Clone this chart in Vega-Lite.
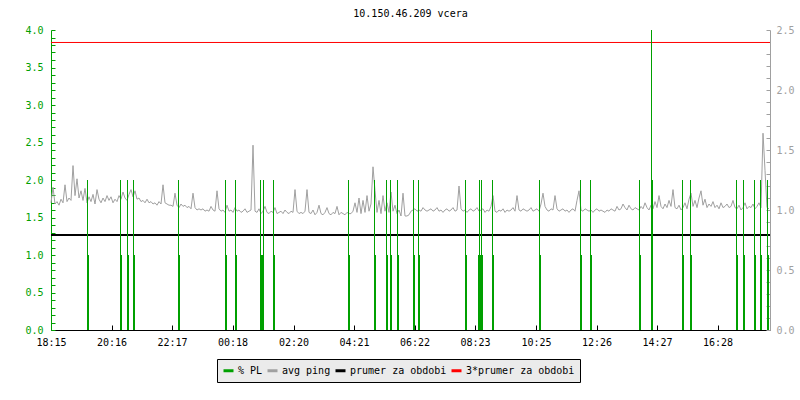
{
"$schema": "https://vega.github.io/schema/vega-lite/v6.json",
"width": 719, "height": 300,
"autosize": {"type": "none"},
"padding": {"left": 51, "top": 30, "right": 30, "bottom": 70},
"background": "white",
"title": {"text": "10.150.46.209 vcera", "font": "DejaVu Sans Mono", "fontSize": 10, "fontWeight": "normal", "color": "black", "anchor": "middle", "offset": 6},
"config": {
  "view": {"stroke": null},
  "axis": {"labelFont": "DejaVu Sans Mono", "labelFontSize": 10, "title": null, "labelOverlap": false},
  "legend": {"orient": "none", "legendX": 166, "legendY": 329, "direction": "horizontal", "fillColor": "#ebebeb", "strokeColor": "black", "padding": 5, "symbolType": "stroke", "symbolStrokeWidth": 3, "symbolSize": 100, "labelFont": "DejaVu Sans Mono", "labelFontSize": 10, "labelColor": "black", "columnPadding": -2, "labelOffset": 3}
},
"datasets": {
  "ping": [
{"t":0,"p":1.06},{"t":4,"p":1.19},{"t":8,"p":1.05},{"t":12,"p":1.07},{"t":16,"p":1.04},{"t":20,"p":1.09},{"t":24,"p":1.06},{"t":28,"p":1.21},{"t":32,"p":1.07},{"t":36,"p":1.1},{"t":40,"p":1.08},{"t":44,"p":1.37},{"t":48,"p":1.12},{"t":52,"p":1.26},{"t":56,"p":1.1},{"t":60,"p":1.16},{"t":64,"p":1.08},{"t":68,"p":1.18},{"t":72,"p":1.06},{"t":76,"p":1.11},{"t":80,"p":1.07},{"t":84,"p":1.13},{"t":88,"p":1.05},{"t":92,"p":1.17},{"t":96,"p":1.09},
{"t":100,"p":1.06},{"t":104,"p":1.1},{"t":108,"p":1.07},{"t":112,"p":1.12},{"t":116,"p":1.08},{"t":120,"p":1.11},{"t":124,"p":1.06},{"t":128,"p":1.09},{"t":132,"p":1.07},{"t":136,"p":1.12},{"t":140,"p":1.09},{"t":144,"p":1.15},{"t":148,"p":1.1},{"t":152,"p":1.08},{"t":156,"p":1.13},{"t":160,"p":1.17},{"t":164,"p":1.11},{"t":168,"p":1.16},{"t":172,"p":1.09},{"t":176,"p":1.1},
{"t":180,"p":1.07},{"t":184,"p":1.08},{"t":188,"p":1.06},{"t":192,"p":1.09},{"t":196,"p":1.06},{"t":200,"p":1.07},{"t":204,"p":1.05},{"t":208,"p":1.06},{"t":212,"p":1.04},{"t":216,"p":1.07},{"t":220,"p":1.05},{"t":224,"p":1.21},{"t":228,"p":1.06},{"t":232,"p":1.05},{"t":236,"p":1.04},
{"t":240,"p":1.04},{"t":244,"p":1.03},{"t":248,"p":1.14},{"t":252,"p":1.04},{"t":256,"p":1.02},{"t":260,"p":1.05},{"t":264,"p":1.03},{"t":268,"p":1.04},{"t":272,"p":1.02},{"t":276,"p":1.03},{"t":280,"p":1.01},{"t":284,"p":1.14},{"t":288,"p":1.02},{"t":292,"p":1.0},{"t":296,"p":1.01},
{"t":300,"p":1.0},{"t":304,"p":1.01},{"t":308,"p":0.99},{"t":312,"p":1.0},{"t":316,"p":0.99},{"t":320,"p":1.03},{"t":324,"p":1.0},{"t":328,"p":0.99},{"t":332,"p":1.16},{"t":336,"p":1.01},{"t":340,"p":0.99},{"t":344,"p":1.0},{"t":348,"p":0.98},{"t":352,"p":1.04},{"t":356,"p":0.99},{"t":360,"p":1.0},{"t":364,"p":0.98},{"t":368,"p":1.02},{"t":372,"p":0.99},{"t":376,"p":1.0},{"t":380,"p":0.98},{"t":384,"p":0.99},{"t":388,"p":1.01},{"t":392,"p":0.98},{"t":396,"p":0.99},
{"t":400,"p":1.0},{"t":404,"p":1.54},{"t":408,"p":0.99},{"t":412,"p":0.98},{"t":416,"p":1.01},{"t":420,"p":0.97},{"t":424,"p":0.99},{"t":428,"p":1.03},{"t":432,"p":0.98},{"t":436,"p":0.97},{"t":440,"p":0.99},{"t":444,"p":0.98},{"t":448,"p":1.02},{"t":452,"p":0.97},{"t":456,"p":0.98},{"t":460,"p":0.99},{"t":464,"p":0.97},{"t":468,"p":1.0},{"t":472,"p":0.98},{"t":476,"p":0.97},{"t":480,"p":0.99},{"t":484,"p":0.98},{"t":488,"p":1.17},{"t":492,"p":0.99},{"t":496,"p":0.97},
{"t":500,"p":0.98},{"t":504,"p":0.97},{"t":508,"p":0.99},{"t":512,"p":1.17},{"t":516,"p":0.98},{"t":520,"p":0.97},{"t":524,"p":1.0},{"t":528,"p":0.96},{"t":532,"p":0.98},{"t":536,"p":1.04},{"t":540,"p":0.97},{"t":544,"p":0.96},{"t":548,"p":0.98},{"t":552,"p":1.02},{"t":556,"p":0.97},{"t":560,"p":0.96},{"t":564,"p":0.98},{"t":568,"p":0.97},{"t":572,"p":1.03},{"t":576,"p":0.96},{"t":580,"p":0.98},{"t":584,"p":0.97},{"t":588,"p":0.96},{"t":592,"p":0.98},{"t":596,"p":0.97},
{"t":600,"p":0.97},{"t":604,"p":0.99},{"t":608,"p":1.06},{"t":612,"p":0.98},{"t":616,"p":1.1},{"t":620,"p":0.97},{"t":624,"p":1.08},{"t":628,"p":0.98},{"t":632,"p":1.12},{"t":636,"p":0.99},{"t":640,"p":1.05},{"t":644,"p":1.36},{"t":648,"p":1.16},{"t":652,"p":0.98},{"t":656,"p":1.08},{"t":660,"p":0.97},{"t":664,"p":1.12},{"t":668,"p":0.99},{"t":672,"p":1.06},{"t":676,"p":0.98},{"t":680,"p":1.15},{"t":684,"p":0.99},{"t":688,"p":1.04},{"t":692,"p":0.97},{"t":696,"p":1.0},
{"t":700,"p":0.95},{"t":704,"p":1.14},{"t":708,"p":0.95},{"t":712,"p":0.95},{"t":716,"p":0.96},
{"t":720,"p":0.99},{"t":724,"p":1.0},{"t":728,"p":1.01},{"t":732,"p":0.99},{"t":736,"p":1.0},{"t":740,"p":0.99},{"t":744,"p":1.02},{"t":748,"p":1.0},{"t":752,"p":0.99},{"t":756,"p":1.0},{"t":760,"p":1.01},{"t":764,"p":0.99},{"t":768,"p":1.0},{"t":772,"p":1.02},{"t":776,"p":0.99},{"t":780,"p":1.0},{"t":784,"p":0.98},{"t":788,"p":1.0},{"t":792,"p":1.01},{"t":796,"p":0.99},{"t":800,"p":1.0},{"t":804,"p":1.02},{"t":808,"p":0.99},{"t":812,"p":1.0},{"t":816,"p":1.2},{"t":820,"p":1.01},{"t":824,"p":0.99},{"t":828,"p":1.0},{"t":832,"p":0.98},{"t":836,"p":1.0},{"t":840,"p":1.01},{"t":844,"p":0.99},{"t":848,"p":1.0},{"t":852,"p":1.02},{"t":856,"p":0.99},{"t":860,"p":1.0},{"t":864,"p":1.01},{"t":868,"p":0.98},{"t":872,"p":1.0},{"t":876,"p":0.99},{"t":880,"p":1.03},{"t":884,"p":1.12},{"t":888,"p":0.99},{"t":892,"p":0.98},{"t":896,"p":1.0},{"t":900,"p":0.99},{"t":904,"p":1.01},{"t":908,"p":0.98},{"t":912,"p":1.0},{"t":916,"p":0.99},{"t":920,"p":1.0},{"t":924,"p":1.02},{"t":928,"p":0.99},{"t":932,"p":1.12},{"t":936,"p":1.0},{"t":940,"p":0.99},{"t":944,"p":1.01},{"t":948,"p":1.0},{"t":952,"p":0.99},{"t":956,"p":1.0},{"t":960,"p":1.02},{"t":964,"p":0.99},{"t":968,"p":1.0},{"t":972,"p":1.01},{"t":976,"p":0.99},{"t":980,"p":1.05},{"t":984,"p":1.14},{"t":988,"p":1.03},{"t":992,"p":1.0},{"t":996,"p":0.99},
{"t":1000,"p":1.01},{"t":1004,"p":1.0},{"t":1008,"p":1.12},{"t":1012,"p":1.01},{"t":1016,"p":0.99},{"t":1020,"p":1.0},{"t":1024,"p":1.01},{"t":1028,"p":0.99},{"t":1032,"p":1.0},{"t":1036,"p":0.98},{"t":1040,"p":1.0},{"t":1044,"p":1.01},{"t":1048,"p":0.99},{"t":1052,"p":1.08},{"t":1056,"p":1.16},{"t":1060,"p":1.0},{"t":1064,"p":0.99},{"t":1068,"p":1.01},{"t":1072,"p":1.0},{"t":1076,"p":0.99},{"t":1080,"p":1.0},{"t":1084,"p":0.98},{"t":1088,"p":1.0},{"t":1092,"p":1.01},{"t":1096,"p":0.99},{"t":1100,"p":1.0},{"t":1104,"p":0.99},{"t":1108,"p":0.98},{"t":1112,"p":1.0},{"t":1116,"p":0.99},{"t":1120,"p":1.01},{"t":1124,"p":1.0},{"t":1128,"p":0.99},{"t":1132,"p":1.03},{"t":1136,"p":1.0},{"t":1140,"p":1.01},{"t":1144,"p":1.05},{"t":1148,"p":1.02},{"t":1152,"p":1.0},{"t":1156,"p":1.04},{"t":1160,"p":1.01},{"t":1164,"p":1.0},{"t":1168,"p":1.02},{"t":1172,"p":1.01},{"t":1176,"p":1.0},
{"t":1180,"p":1.03},{"t":1184,"p":1.01},{"t":1188,"p":1.06},{"t":1192,"p":1.02},{"t":1196,"p":1.0},{"t":1200,"p":1.04},{"t":1204,"p":1.01},{"t":1208,"p":1.07},{"t":1212,"p":1.02},{"t":1216,"p":1.12},{"t":1220,"p":1.03},{"t":1224,"p":1.01},{"t":1228,"p":1.05},{"t":1232,"p":1.02},{"t":1236,"p":1.08},{"t":1240,"p":1.03},{"t":1244,"p":1.17},{"t":1248,"p":1.02},{"t":1252,"p":1.01},{"t":1256,"p":1.04},{"t":1260,"p":1.0},{"t":1264,"p":1.02},{"t":1268,"p":1.06},{"t":1272,"p":1.01},{"t":1276,"p":1.09},{"t":1280,"p":1.14},{"t":1284,"p":1.03},{"t":1288,"p":1.08},{"t":1292,"p":1.02},{"t":1296,"p":1.1},{"t":1300,"p":1.16},{"t":1304,"p":1.04},{"t":1308,"p":1.09},{"t":1312,"p":1.02},{"t":1316,"p":1.05},{"t":1320,"p":1.03},{"t":1324,"p":1.07},{"t":1328,"p":1.02},{"t":1332,"p":1.04},{"t":1336,"p":1.01},{"t":1340,"p":1.06},{"t":1344,"p":1.02},{"t":1348,"p":1.03},{"t":1352,"p":1.05},{"t":1356,"p":1.02},{"t":1360,"p":1.03},{"t":1364,"p":1.08},{"t":1368,"p":1.02},{"t":1372,"p":1.01},{"t":1376,"p":1.04},{"t":1380,"p":1.0},{"t":1384,"p":1.02},{"t":1388,"p":1.06},{"t":1392,"p":1.01},{"t":1396,"p":1.03},{"t":1400,"p":1.02},{"t":1404,"p":1.05},{"t":1408,"p":1.01},{"t":1412,"p":1.03},{"t":1416,"p":1.06},{"t":1420,"p":1.02},{"t":1424,"p":1.64},{"t":1428,"p":1.33},{"t":1432,"p":1.02},{"t":1436,"p":1.01}
  ],
  "pl": [
{"t":73,"pl":2},{"t":75,"pl":1},{"t":139,"pl":2},{"t":141,"pl":1},{"t":153,"pl":2},{"t":155,"pl":1},{"t":165,"pl":2},{"t":167,"pl":1},{"t":255,"pl":2},{"t":257,"pl":1},{"t":349,"pl":2},{"t":351,"pl":1},{"t":369,"pl":2},{"t":371,"pl":1},{"t":419,"pl":2},{"t":421,"pl":1},{"t":423,"pl":1},{"t":425,"pl":2},{"t":445,"pl":2},{"t":447,"pl":1},{"t":595,"pl":2},{"t":597,"pl":1},{"t":647,"pl":2},{"t":649,"pl":1},{"t":671,"pl":2},{"t":673,"pl":1},{"t":679,"pl":2},{"t":681,"pl":1},{"t":693,"pl":2},{"t":695,"pl":1},{"t":725,"pl":2},{"t":727,"pl":1},{"t":735,"pl":2},{"t":737,"pl":1},{"t":829,"pl":2},{"t":831,"pl":1},{"t":855,"pl":1},{"t":857,"pl":2},{"t":859,"pl":1},{"t":861,"pl":2},{"t":863,"pl":1},{"t":883,"pl":2},{"t":885,"pl":1},{"t":977,"pl":2},{"t":979,"pl":1},{"t":1059,"pl":2},{"t":1061,"pl":1},{"t":1079,"pl":2},{"t":1081,"pl":1},{"t":1177,"pl":2},{"t":1179,"pl":1},{"t":1201,"pl":5},{"t":1203,"pl":2},{"t":1263,"pl":2},{"t":1265,"pl":1},{"t":1279,"pl":2},{"t":1281,"pl":1},{"t":1371,"pl":2},{"t":1373,"pl":1},{"t":1385,"pl":2},{"t":1387,"pl":1},{"t":1407,"pl":2},{"t":1409,"pl":1},{"t":1419,"pl":2},{"t":1421,"pl":1},{"t":1433,"pl":2},{"t":1435,"pl":1}
  ],
  "ref": [{"p": 0.792, "s": "prumer za obdobi", "w": 2}, {"p": 2.396, "s": "3*prumer za obdobi", "w": 1}]
},
"layer": [
  {"layer": [
    {"data": {"name": "ping"}, "mark": {"type": "line", "strokeWidth": 1},
     "encoding": {
       "x": {"field": "t", "type": "quantitative", "scale": {"domain": [0, 1438], "nice": false, "zero": false},
             "axis": {"values": [0,121,242,363,485,606,727,848,970,1091,1212,1333], "grid": false, "domainColor": "black", "tickColor": "black", "tickSize": -5, "labelColor": "black", "labelPadding": 12, "labelFlush": false,
               "labelExpr": "(floor((datum.value+1095)/60)%24<10?'0':'')+(floor((datum.value+1095)/60)%24)+':'+((datum.value+1095)%60<10?'0':'')+((datum.value+1095)%60)"}},
       "y": {"field": "p", "type": "quantitative", "scale": {"domain": [0, 2.5], "nice": false},
             "axis": {"orient": "right", "values": [0,0.1,0.2,0.3,0.4,0.5,0.6,0.7,0.8,0.9,1,1.1,1.2,1.3,1.4,1.5,1.6,1.7,1.8,1.9,2,2.1,2.2,2.3,2.4,2.5], "grid": false, "domainColor": "#a0a0a0", "tickColor": "#a0a0a0", "labelColor": "#a0a0a0",
               "tickSize": -4, "labelPadding": 10, "labelOverlap": false,
               "labelExpr": "abs(datum.value*2-round(datum.value*2))<0.001 ? format(datum.value,'.1f') : ''"}},
       "color": {"datum": "avg ping", "type": "nominal", "title": null,
                 "scale": {"domain": ["% PL", "avg ping", "prumer za obdobi", "3*prumer za obdobi"], "range": ["#00a000", "#a0a0a0", "#000000", "#ff0000"]}}
     }},
    {"data": {"name": "ref"}, "mark": {"type": "rule"},
     "encoding": {
       "y": {"field": "p", "type": "quantitative", "scale": {"domain": [0, 2.5], "nice": false},
             "axis": {"orient": "right", "values": [0,0.1,0.2,0.3,0.4,0.5,0.6,0.7,0.8,0.9,1,1.1,1.2,1.3,1.4,1.5,1.6,1.7,1.8,1.9,2,2.1,2.2,2.3,2.4,2.5], "grid": false, "domainColor": "#a0a0a0", "tickColor": "#a0a0a0", "labelColor": "#a0a0a0",
               "tickSize": -4, "labelPadding": 10, "labelOverlap": false,
               "labelExpr": "abs(datum.value*2-round(datum.value*2))<0.001 ? format(datum.value,'.1f') : ''"}},
       "color": {"field": "s", "type": "nominal"},
       "strokeWidth": {"field": "w", "type": "quantitative", "scale": null, "legend": null}
     }}
  ]},
  {"data": {"name": "pl"}, "mark": {"type": "rule", "strokeWidth": 1},
   "encoding": {
     "x": {"field": "t", "type": "quantitative", "scale": {"domain": [0, 1438], "nice": false, "zero": false},
           "axis": {"values": [0,121,242,363,485,606,727,848,970,1091,1212,1333], "grid": false, "domainColor": "black", "tickColor": "black", "tickSize": -5, "labelColor": "black", "labelPadding": 12, "labelFlush": false,
             "labelExpr": "(floor((datum.value+1095)/60)%24<10?'0':'')+(floor((datum.value+1095)/60)%24)+':'+((datum.value+1095)%60<10?'0':'')+((datum.value+1095)%60)"}},
     "y": {"field": "pl", "type": "quantitative", "scale": {"domain": [0, 4], "nice": false, "clamp": true},
           "axis": {"orient": "left", "values": [0,0.1,0.2,0.3,0.4,0.5,0.6,0.7,0.8,0.9,1,1.1,1.2,1.3,1.4,1.5,1.6,1.7,1.8,1.9,2,2.1,2.2,2.3,2.4,2.5,2.6,2.7,2.8,2.9,3,3.1,3.2,3.3,3.4,3.5,3.6,3.7,3.8,3.9,4],
             "domainColor": "#00a000", "tickColor": "#00a000", "labelColor": "#00a000", "gridColor": "#bbbbbb",
             "gridOpacity": {"condition": {"test": "abs(datum.value*2-round(datum.value*2))<0.001", "value": 1}, "value": 0},
             "tickSize": -4, "labelPadding": 12, "labelOverlap": false,
             "labelExpr": "abs(datum.value*2-round(datum.value*2))<0.001 ? format(datum.value,'.1f') : ''"}},
     "y2": {"datum": 0},
     "color": {"datum": "% PL", "type": "nominal"}
   }}
],
"resolve": {"scale": {"y": "independent"}}
}
